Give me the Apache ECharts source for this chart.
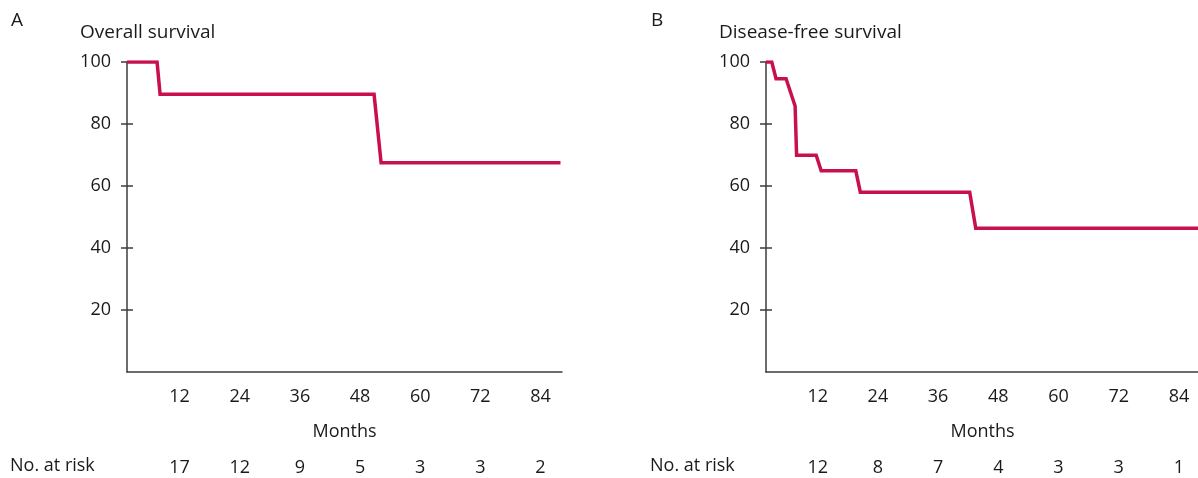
<!DOCTYPE html>
<html><head><meta charset="utf-8">
<script src="https://cdn.jsdelivr.net/npm/echarts@6/dist/echarts.min.js"></script>
<style>html,body{margin:0;padding:0;background:#fff}#c{width:1198px;height:478px}</style>
</head><body><div id="c"></div>
<script>
// Overall survival (months, %)
const osMonths = [1.5, 7.5, 8.1, 50.8, 52.2, 88.0];
const osValues = [100, 100, 89.6, 89.6, 67.5, 67.5];
// Disease-free survival (months, %)
const dfsMonths = [1.7, 2.85, 3.7, 5.7, 7.5, 7.8, 11.7, 12.7, 19.6, 20.5, 42.3, 43.5, 88.0];
const dfsValues = [100, 100, 94.6, 94.6, 85.8, 69.9, 69.9, 64.9, 64.9, 58.0, 58.0, 46.4, 46.4];
const monthTicks = [12, 24, 36, 48, 60, 72, 84];
const yTicks = [20, 40, 60, 80, 100];
const osAtRisk = [17, 12, 9, 5, 3, 3, 2];
const dfsAtRisk = [12, 8, 7, 4, 3, 3, 1];

const FONT = '"Open Sans", "Noto Sans", sans-serif';
const TXT = '#1a1a1a';
const AX = '#3c3c3c';
const RED = '#c8104f';
const FS = 18;

const panels = [
  {left: 127, width: 435, min: 1.5, max: 88.3, months: osMonths, vals: osValues, risk: osAtRisk, letter: 'A', title: 'Overall survival', riskX: 10},
  {left: 766, width: 433, min: 1.7, max: 88.0, months: dfsMonths, vals: dfsValues, risk: dfsAtRisk, letter: 'B', title: 'Disease-free survival', riskX: 650}
];

const grid = [], xAxis = [], yAxis = [], series = [], title = [], graphic = [];
panels.forEach((p, i) => {
  grid.push({left: p.left, width: p.width, top: 62, height: 310, containLabel: false, outerBoundsMode: 'none'});
  // main x axis
  xAxis.push({
    type: 'value', gridIndex: i, min: p.min, max: p.max,
    axisLine: {show: true, onZero: false, lineStyle: {color: AX, width: 1.5}},
    axisTick: {show: false}, splitLine: {show: false},
    axisLabel: {customValues: monthTicks, color: TXT, fontSize: FS, fontFamily: FONT, margin: 16},
    name: 'Months', nameLocation: 'middle', nameGap: 51,
    nameTextStyle: {color: TXT, fontSize: FS, fontFamily: FONT}
  });
  // number at risk axis
  xAxis.push({
    type: 'value', gridIndex: i, min: p.min, max: p.max, position: 'bottom', offset: 71,
    axisLine: {show: false}, axisTick: {show: false}, splitLine: {show: false},
    axisLabel: {customValues: monthTicks, color: TXT, fontSize: FS, fontFamily: FONT, margin: 16,
      formatter: v => { const k = monthTicks.indexOf(Math.round(v)); return k >= 0 ? String(p.risk[k]) : ''; }}
  });
  yAxis.push({
    type: 'value', gridIndex: i, min: 0, max: 100,
    axisLine: {show: true, onZero: false, lineStyle: {color: AX, width: 1.5}},
    axisTick: {show: true, customValues: yTicks, length: 6, inside: false, lineStyle: {color: AX, width: 1.5}},
    splitLine: {show: false},
    axisLabel: {customValues: yTicks, color: TXT, fontSize: FS, fontFamily: FONT, margin: 16}
  });
  yAxis.push({
    type: 'value', gridIndex: i, min: 0, max: 100, position: 'left',
    axisLine: {show: false},
    axisTick: {show: true, customValues: yTicks, length: 6, inside: true, lineStyle: {color: AX, width: 1.5}},
    splitLine: {show: false}, axisLabel: {show: false}
  });
  series.push({
    type: 'line', xAxisIndex: i * 2, yAxisIndex: i * 2, showSymbol: false, silent: true,
    data: p.months.map((m, k) => [m, p.vals[k]]),
    lineStyle: {color: RED, width: 3.5, join: 'miter'}, z: 5
  });
  title.push({text: p.letter, left: p.riskX + 1, top: 11, padding: 0, textStyle: {color: TXT, fontSize: 19, fontWeight: 'normal', fontFamily: FONT}});
  title.push({text: p.title, left: p.left - 47, top: 23, padding: 0, textStyle: {color: TXT, fontSize: 19, fontWeight: 'normal', fontFamily: FONT}});
  graphic.push({type: 'text', left: p.riskX, top: 457, style: {text: 'No. at risk', fill: TXT, fontSize: FS, fontFamily: FONT}});
});

const chart = echarts.init(document.getElementById('c'), null, {renderer: 'canvas'});
chart.setOption({animation: false, title, grid, xAxis, yAxis, series, graphic});
</script></body></html>
